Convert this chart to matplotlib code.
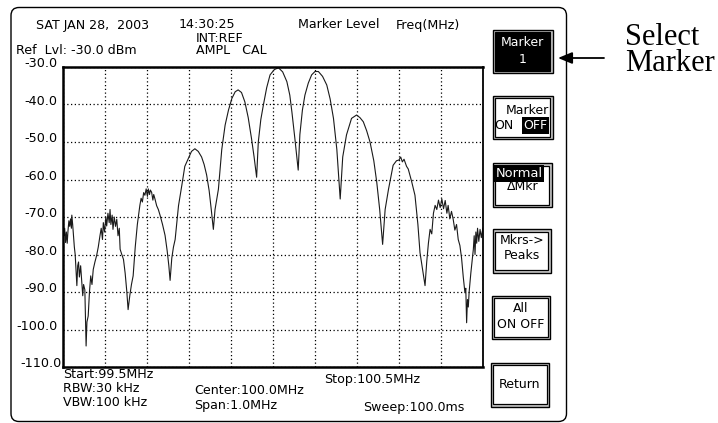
import matplotlib
matplotlib.use("Agg")
import matplotlib.pyplot as plt
from matplotlib.patches import FancyBboxPatch, Rectangle
from matplotlib.transforms import offset_copy

plt.rcParams['font.family'] = ['DejaVu Sans']

# sweep: frequency (MHz) and level (dBm)
freq_mhz = [
    99.500, 99.502, 99.504, 99.506, 99.508, 99.510, 99.512, 99.514, 99.516, 99.518,
    99.520, 99.521, 99.523, 99.525, 99.527, 99.529, 99.531, 99.533, 99.535, 99.537,
    99.539, 99.542, 99.545, 99.547, 99.549, 99.552, 99.555, 99.557, 99.560, 99.563,
    99.566, 99.569, 99.572, 99.576, 99.580, 99.584, 99.588, 99.591, 99.594, 99.596,
    99.599, 99.602, 99.604, 99.607, 99.610, 99.612, 99.614, 99.617, 99.619, 99.622,
    99.625, 99.628, 99.631, 99.634, 99.636, 99.640, 99.644, 99.648, 99.652, 99.655,
    99.659, 99.663, 99.667, 99.672, 99.677, 99.683, 99.686, 99.689, 99.692, 99.695,
    99.698, 99.701, 99.703, 99.706, 99.708, 99.711, 99.714, 99.716, 99.719, 99.723,
    99.727, 99.731, 99.737, 99.743, 99.748, 99.752, 99.755, 99.759, 99.763, 99.767,
    99.775, 99.783, 99.790, 99.798, 99.806, 99.814, 99.822, 99.830, 99.836, 99.842,
    99.848, 99.853, 99.858, 99.862, 99.870, 99.878, 99.886, 99.894, 99.902, 99.910,
    99.917, 99.925, 99.933, 99.941, 99.949, 99.955, 99.961, 99.965, 99.971, 99.977,
    99.985, 99.993, 100.003, 100.013, 100.023, 100.033, 100.040, 100.045, 100.052, 100.060,
    100.064, 100.070, 100.076, 100.084, 100.092, 100.100, 100.108, 100.118, 100.128, 100.136,
    100.144, 100.152, 100.160, 100.166, 100.175, 100.187, 100.199, 100.207, 100.215, 100.223,
    100.231, 100.240, 100.247, 100.254, 100.261, 100.267, 100.275, 100.286, 100.294, 100.300,
    100.304, 100.308, 100.312, 100.318, 100.322, 100.330, 100.338, 100.345, 100.350, 100.356,
    100.362, 100.366, 100.370, 100.374, 100.378, 100.382, 100.386, 100.390, 100.394, 100.398,
    100.402, 100.406, 100.410, 100.414, 100.417, 100.421, 100.425, 100.429, 100.433, 100.437,
    100.441, 100.445, 100.449, 100.453, 100.457, 100.459, 100.461, 100.463, 100.465, 100.467,
    100.471, 100.477, 100.479, 100.481, 100.483, 100.485, 100.487, 100.490, 100.493, 100.496,
    100.498, 100.500,
]
level_dbm = [
    -74.5, -75.0, -73.0, -76.8, -74.0, -77.0, -73.5, -71.0, -72.5, -70.5,
    -73.0, -69.5, -72.0, -75.0, -78.0, -80.0, -84.0, -88.3, -83.0, -82.0,
    -86.0, -83.0, -88.0, -91.0, -88.0, -89.4, -104.4, -98.0, -96.4, -90.0,
    -85.7, -88.0, -84.0, -82.0, -80.3, -78.0, -75.0, -73.0, -76.0, -71.5,
    -74.0, -70.0, -72.4, -69.0, -71.5, -68.0, -72.0, -69.5, -73.3, -70.0,
    -72.5, -70.6, -75.0, -73.0, -78.6, -80.0, -81.3, -85.0, -90.0, -94.7,
    -91.0, -88.0, -85.7, -78.0, -72.0, -66.9, -65.0, -66.0, -63.5, -64.2,
    -62.5, -64.5, -62.5, -64.0, -62.8, -63.4, -65.5, -64.0, -65.2, -67.0,
    -68.0, -69.5, -72.0, -74.9, -79.0, -83.0, -86.9, -81.0, -78.0, -76.0,
    -67.0, -61.5, -56.5, -54.5, -52.5, -51.8, -52.5, -54.0, -56.0, -58.8,
    -63.0, -68.0, -73.3, -68.0, -62.6, -52.0, -45.5, -41.5, -38.4, -36.6,
    -36.1, -36.8, -39.3, -43.5, -49.2, -54.0, -59.4, -50.0, -44.0, -40.2,
    -35.5, -32.1, -30.7, -30.2, -31.3, -33.9, -37.5, -42.0, -49.0, -57.5,
    -48.0, -41.5, -37.5, -34.3, -32.1, -31.2, -31.2, -32.5, -34.8, -38.5,
    -43.7, -52.0, -65.2, -54.0, -48.1, -43.7, -42.8, -43.5, -44.6, -47.0,
    -50.0, -55.0, -60.7, -68.0, -77.3, -68.0, -62.6, -56.2, -55.0, -54.8,
    -54.0, -55.3, -54.6, -56.5, -57.2, -60.5, -64.2, -72.0, -79.5, -84.0,
    -88.3, -82.0, -77.0, -73.3, -74.5, -69.0, -66.9, -68.0, -65.5, -67.5,
    -65.2, -67.8, -65.6, -69.0, -66.9, -70.5, -68.5, -70.6, -73.5, -72.0,
    -76.0, -77.6, -81.0, -86.0, -90.2, -89.0, -98.2, -92.0, -94.0, -90.0,
    -85.0, -78.6, -75.0, -80.0, -74.0, -77.0, -73.0, -76.5, -73.3, -75.5,
    -74.0, -73.0,
]

y_ticks = [-30, -40, -50, -60, -70, -80, -90, -100, -110]
x_ticks = [99.5, 99.6, 99.7, 99.8, 99.9, 100.0, 100.1, 100.2, 100.3, 100.4, 100.5]

header = [("SAT JAN 28,  2003", 36, 25), ("14:30:25", 179, 25),
          ("Marker Level", 298, 25), ("Freq(MHz)", 396, 25),
          ("INT:REF", 196, 38), ("Ref  Lvl: -30.0 dBm", 16, 51),
          ("AMPL   CAL", 196, 51)]
footer = [("Start:99.5MHz", 63, 375), ("RBW:30 kHz", 63, 388),
          ("VBW:100 kHz", 63, 403), ("Center:100.0MHz", 194, 391),
          ("Span:1.0MHz", 194, 406), ("Stop:100.5MHz", 324, 379),
          ("Sweep:100.0ms", 363, 408)]

# softkeys: (x0, y0, x1, y1)
keys = [(492.7, 30, 552.7, 73.3), (492.7, 96, 552.7, 139.3),
        (492.7, 163.3, 551.7, 207.3), (492.7, 229.3, 550.7, 272.7),
        (491.7, 296, 550, 339.3), (490.7, 362.7, 549.3, 406.7)]

W, H = 718, 423
fig = plt.figure(figsize=(W / 100, H / 100), dpi=100)
bg = fig.add_axes([0, 0, 1, 1])
bg.set_xlim(0, W)
bg.set_ylim(H, 0)
bg.axis('off')

bg.add_patch(FancyBboxPatch((11, 7.5), 555.5, 414, boxstyle="round,pad=0,rounding_size=8",
                            fill=False, ec='black', lw=1.0))

fs = 9.1
for s, x, y in header + footer:
    bg.text(x, y, s, fontsize=fs, ha='left', va='center')

# buttons
for i, (x0, y0, x1, y1) in enumerate(keys):
    bg.add_patch(Rectangle((x0, y0), x1 - x0, y1 - y0, fc='#c8c8c8', ec='black', lw=1.0))
    inner_fc = 'black' if i == 0 else 'white'
    bg.add_patch(Rectangle((x0 + 2.5, y0 + 2.5), x1 - x0 - 5, y1 - y0 - 5,
                           fc=inner_fc, ec='black', lw=0.9))

bfs = 9
cx = [(k[0] + k[2]) / 2 for k in keys]
bg.text(cx[0], 43, "Marker", color='white', fontsize=bfs, ha='center', va='center')
bg.text(cx[0], 59.5, "1", color='white', fontsize=bfs, ha='center', va='center')
bg.text(549, 110.5, "Marker", fontsize=bfs, ha='right', va='center')
bg.text(494.5, 125.5, "ON", fontsize=bfs, ha='left', va='center')
bg.text(547.5, 125.5, "OFF", color='white', fontsize=bfs, ha='right', va='center',
        bbox=dict(fc='black', ec='none', pad=1.2))
bg.text(495.5, 173.5, "Normal", color='white', fontsize=9.4, ha='left', va='center',
        bbox=dict(fc='black', ec='none', pad=1.2))
bg.text(523, 187, "\u0394Mkr", fontsize=bfs, ha='center', va='center')
bg.text(cx[3], 240, "Mkrs->", fontsize=bfs, ha='center', va='center')
bg.text(cx[3], 255.5, "Peaks", fontsize=bfs, ha='center', va='center')
bg.text(cx[4], 309, "All", fontsize=bfs, ha='center', va='center')
bg.text(cx[4], 324.5, "ON OFF", fontsize=bfs, ha='center', va='center')
bg.text(cx[5], 385, "Return", fontsize=bfs, ha='center', va='center')

# callout
bg.annotate('', xy=(558, 58), xytext=(604, 58),
            arrowprops=dict(arrowstyle='-|>,head_length=0.85,head_width=0.35',
                            color='black', lw=1.3, mutation_scale=10, shrinkA=0, shrinkB=0))
bg.text(625, 50.5, "Select\nMarker", family='Liberation Serif', fontsize=22, ha='left',
        va='center', linespacing=0.86)

# trace window
ax = fig.add_axes([63 / W, 1 - 367 / H, 420 / W, 300 / H])
ax.plot(freq_mhz, level_dbm, color='#1a1a1a', lw=0.8)
ax.set_xlim(x_ticks[0], x_ticks[-1])
ax.set_ylim(y_ticks[-1], y_ticks[0])
ax.set_xticks(x_ticks)
ax.set_yticks(y_ticks)
ax.grid(True, linestyle=(0, (1, 2)), color='black', lw=0.9)
ax.tick_params(length=0, labelbottom=False, labelleft=False)
for side in ['left', 'bottom', 'top']:
    ax.spines[side].set_linewidth(1.8)
ax.spines['right'].set_linewidth(1.3)

# level labels sit just above each grid line, left of the frame
lab_tr = offset_copy(bg.transData, fig=fig, x=0, y=2.3, units='points')
for v in y_ticks:
    y_px = bg.transData.inverted().transform(ax.transData.transform((x_ticks[0], v)))[1]
    x_right = 61.5 if v == y_ticks[-1] else 57.5
    ax.text(x_right, y_px, f"{v:.1f}", transform=lab_tr, fontsize=9.2, ha='right',
            va='center', clip_on=False)

fig.savefig("out.png", dpi=100)
